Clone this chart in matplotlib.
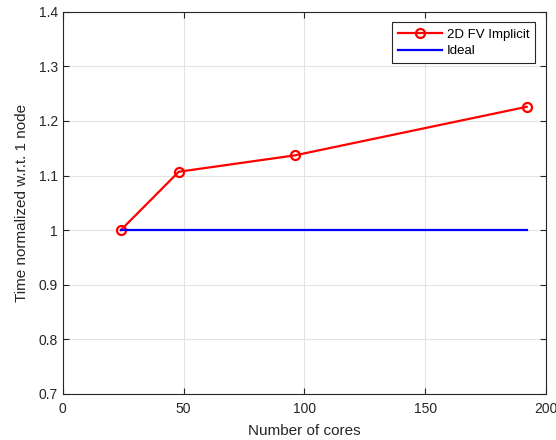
import numpy as np
import matplotlib
matplotlib.use("Agg")
import matplotlib.pyplot as plt

plt.rcParams['font.family'] = ['Liberation Sans', 'DejaVu Sans']

# datos
cores = [24, 48, 96, 192]
time_norm = [1.0, 1.107, 1.137, 1.226]
ideal = [1.0, 1.0, 1.0, 1.0]

fig = plt.figure(figsize=(5.56, 4.40), dpi=100)
ax = fig.add_axes([0.113, 0.105, 0.869, 0.868])

ax.plot(cores, time_norm, color='red', lw=1.6, marker='o', ms=6.5,
        mfc='none', mew=1.6, label='2D FV Implicit')
ax.plot(cores, ideal, color='blue', lw=1.6, label='Ideal')

ax.set_xlim(0, 200)
ax.set_ylim(0.7, 1.4)
ax.set_xticks([0, 50, 100, 150, 200])
ax.set_yticks([0.7, 0.8, 0.9, 1.0, 1.1, 1.2, 1.3, 1.4])
ax.set_yticklabels(['0.7', '0.8', '0.9', '1', '1.1', '1.2', '1.3', '1.4'])
ax.grid(True, color='#e3e3e3', lw=0.8)
ax.set_axisbelow(True)
ax.tick_params(direction='in', top=True, right=True, labelsize=10, length=4,
               color='#262626', labelcolor='#262626')
ax.tick_params(axis='x', pad=6)
for s in ax.spines.values():
    s.set_color('#262626')
    s.set_linewidth(0.8)

ax.set_xlabel('Number of cores', fontsize=11, color='#262626', labelpad=6)
ax.set_ylabel('Time normalized w.r.t. 1 node', fontsize=11, color='#262626',
              labelpad=7)

leg = ax.legend(loc='upper right', fontsize=9.5, fancybox=False, framealpha=1,
                edgecolor='#262626', borderaxespad=0.8, handlelength=3.3,
                handletextpad=0.4, labelspacing=0.35, borderpad=0.45)
leg.get_frame().set_linewidth(0.8)

fig.savefig('out.png', dpi=100)
